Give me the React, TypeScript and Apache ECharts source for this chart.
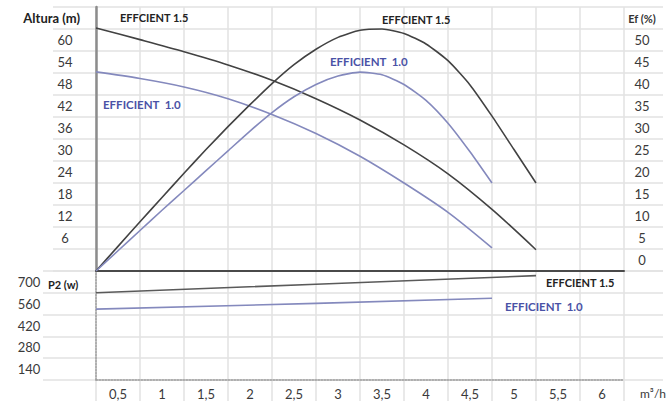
import React, { useEffect, useRef } from "react";
import * as echarts from "echarts";

// Flow (m³/h) sample points and readings
const Q_15 = [0, 0.5, 1, 1.5, 2, 2.5, 3, 3.5, 4, 4.5, 5];
const Q_10 = [0, 0.5, 1, 1.5, 2, 2.5, 3, 3.5, 4, 4.5];
const HEAD_15 = [66.3, 63.1, 59.8, 56.2, 52, 47, 41.2, 34.4, 26.5, 16.8, 5.8];
const HEAD_10 = [54.3, 52.5, 50.2, 47, 42.7, 37.5, 31.3, 24, 16, 6.3];
const EFF_Q_15 = [0, 0.25, 0.5, 0.75, 1, 1.25, 1.5, 1.75, 2, 2.25, 2.5, 2.75, 3, 3.25, 3.5, 3.75, 4, 4.25, 4.5, 4.75, 5];
const EFF_15 = [0, 5.6, 11.2, 16.7, 22.2, 27.6, 32.8, 37.8, 42.6, 46.9, 50.4, 53.1, 54.7, 55, 54, 51.6, 47.8, 42.3, 35.2, 27.6, 20];
const EFF_Q_10 = [0, 0.25, 0.5, 0.75, 1, 1.25, 1.5, 1.75, 2, 2.25, 2.5, 2.75, 3, 3.25, 3.5, 3.75, 4, 4.25, 4.5];
const EFF_10 = [0, 4.6, 9.2, 13.8, 18.3, 22.8, 27.3, 31.8, 36, 39.6, 42.4, 44.3, 45.2, 44.6, 42.4, 38.8, 33.6, 27.1, 20];
const P2_Q_15 = [0, 2.5, 5];
const P2_15 = [560, 615, 670];
const P2_Q_10 = [0, 2.5, 4.5];
const P2_10 = [455, 492, 525];

// Tick labels
const X_LABELS = ["0,5", "1", "1,5", "2", "2,5", "3", "3,5", "4", "4,5", "5", "5,5", "6"];
const HEAD_TICKS = ["", "6", "12", "18", "24", "30", "36", "42", "48", "54", "60", ""];
const EFF_TICKS = ["0", "5", "10", "15", "20", "25", "30", "35", "40", "45", "50", ""];
const P2_TICKS = ["140", "280", "420", "560", "700"];

const DARK = "#424242";
const BLUE = "#8489bd";
const BLUE_TEXT = "#4a52a6";
const GRID = "#e2e2e2";
const LABEL = "#3a3a3a";
const FONT = "Lato, 'Open Sans', sans-serif";

const pairs = (xs: number[], ys: number[]) => xs.map((x, i) => [x, ys[i]]);

export default function App() {
  const ref = useRef<HTMLDivElement>(null);
  useEffect(() => {
    if (!ref.current) return;
    const chart = echarts.init(ref.current, undefined, { renderer: "svg" });
    const hidden = { axisLine: { show: false }, axisTick: { show: false }, axisLabel: { show: false }, splitLine: { show: false } };
    const tickText = { color: LABEL, fontSize: 13, fontFamily: FONT };
    const txt = (text: string, x: number, y: number, opts: any = {}) => ({
      type: "text",
      x,
      y,
      style: {
        text,
        fill: opts.fill || "#222",
        font: `${opts.weight || "bold"} ${opts.size || 11}px ${FONT}`,
        textAlign: opts.align || "left",
        textVerticalAlign: "middle",
      },
      z: 100,
    });
    const option: any = {
      animation: false,
      grid: [
        { left: 96, width: 528, top: 7, height: 394 },
        { left: 53, right: 5, top: 7, height: 264 },
        { left: 43, right: 5, top: 271, height: 109 },
        { left: 96, width: 528, top: 7, height: 264 },
        { left: 96, width: 528, top: 271, height: 109 },
      ],
      xAxis: [
        { gridIndex: 0, type: "value", min: 0, max: 6, interval: 0.5, ...hidden, splitLine: { show: true, lineStyle: { color: GRID, width: 1.5 } } },
        { gridIndex: 1, type: "value", min: 0, max: 1, ...hidden },
        { gridIndex: 2, type: "value", min: 0, max: 1, ...hidden },
        { gridIndex: 3, type: "value", min: 0, max: 6, ...hidden, axisLine: { show: true, onZero: false, lineStyle: { color: "#4a4a4a", width: 2 } } },
        { gridIndex: 4, type: "value", min: 0, max: 6, ...hidden, axisLine: { show: true, onZero: false, lineStyle: { color: "#9a9a9a", width: 1.5, type: "dotted" } } },
        { gridIndex: 4, type: "category", data: X_LABELS, boundaryGap: true, position: "bottom", axisLine: { show: false }, axisTick: { show: false }, splitLine: { show: false }, axisLabel: { ...tickText, margin: 7, interval: 0 } },
      ],
      yAxis: [
        { gridIndex: 0, type: "value", min: 0, max: 1, ...hidden },
        { gridIndex: 1, type: "value", min: 0, max: 12, interval: 1, ...hidden, splitLine: { show: true, lineStyle: { color: GRID, width: 1.5 } } },
        { gridIndex: 2, type: "value", min: 0, max: 5, interval: 1, ...hidden, splitLine: { show: true, lineStyle: { color: GRID, width: 1.5 } } },
        { gridIndex: 3, type: "value", min: 0, max: 72, interval: 6, ...hidden, axisLine: { show: true, onZero: false, lineStyle: { color: "#8c8c8c", width: 2.5 } } },
        { gridIndex: 3, type: "value", position: "right", min: 0, max: 60, interval: 5, ...hidden },
        { gridIndex: 3, type: "category", data: HEAD_TICKS, position: "left", boundaryGap: true, axisLine: { show: false }, axisTick: { show: false }, splitLine: { show: false }, axisLabel: { ...tickText, align: "center", margin: 31, interval: 0 } },
        { gridIndex: 3, type: "category", data: EFF_TICKS, position: "right", boundaryGap: true, axisLine: { show: false }, axisTick: { show: false }, splitLine: { show: false }, axisLabel: { ...tickText, align: "center", margin: 18, interval: 0 } },
        { gridIndex: 4, type: "value", min: 0, max: 700, interval: 140, ...hidden, axisLine: { show: true, onZero: false, lineStyle: { color: "#9a9a9a", width: 1.5, type: "dotted" } } },
        { gridIndex: 4, type: "category", data: P2_TICKS, position: "left", boundaryGap: true, axisLine: { show: false }, axisTick: { show: false }, splitLine: { show: false }, axisLabel: { ...tickText, align: "center", margin: 67, interval: 0 } },
      ],
      series: [
        { name: "H 1.5", type: "line", xAxisIndex: 3, yAxisIndex: 3, data: pairs(Q_15, HEAD_15), smooth: 0.3, symbol: "none", lineStyle: { color: DARK, width: 1.6 } },
        { name: "H 1.0", type: "line", xAxisIndex: 3, yAxisIndex: 3, data: pairs(Q_10, HEAD_10), smooth: 0.3, symbol: "none", lineStyle: { color: BLUE, width: 1.6 } },
        { name: "Ef 1.5", type: "line", xAxisIndex: 3, yAxisIndex: 4, data: pairs(EFF_Q_15, EFF_15), smooth: 0.2, symbol: "none", lineStyle: { color: DARK, width: 1.6 } },
        { name: "Ef 1.0", type: "line", xAxisIndex: 3, yAxisIndex: 4, data: pairs(EFF_Q_10, EFF_10), smooth: 0.2, symbol: "none", lineStyle: { color: BLUE, width: 1.6 } },
        { name: "P2 1.5", type: "line", xAxisIndex: 4, yAxisIndex: 7, data: pairs(P2_Q_15, P2_15), symbol: "none", lineStyle: { color: "#5a5a5a", width: 1.6 } },
        { name: "P2 1.0", type: "line", xAxisIndex: 4, yAxisIndex: 7, data: pairs(P2_Q_10, P2_10), symbol: "none", lineStyle: { color: BLUE, width: 1.6 } },
      ],
      graphic: [
        txt("Altura (m)", 80, 18, { size: 13, align: "right" }),
        txt("Ef (%)", 642, 18, { size: 11, align: "center", fill: "#333" }),
        txt("P2 (w)", 48, 284, { size: 11 }),
        txt("m³/h", 640, 393, { size: 12, weight: "normal", fill: LABEL }),
        txt("EFFCIENT 1.5", 120, 17),
        txt("EFFCIENT 1.5", 382, 19),
        txt("EFFICIENT  1.0", 330, 61, { fill: BLUE_TEXT, size: 11.5 }),
        txt("EFFICIENT  1.0", 103, 104, { fill: BLUE_TEXT, size: 11.5 }),
        txt("EFFCIENT 1.5", 546, 282),
        txt("EFFICIENT  1.0", 505, 306, { fill: BLUE_TEXT, size: 11.5 }),
      ],
    };
    chart.setOption(option);
    return () => chart.dispose();
  }, []);
  return <div ref={ref} style={{ position: "absolute", left: 0, top: 0, width: 668, height: 401, background: "#fff" }} />;
}
